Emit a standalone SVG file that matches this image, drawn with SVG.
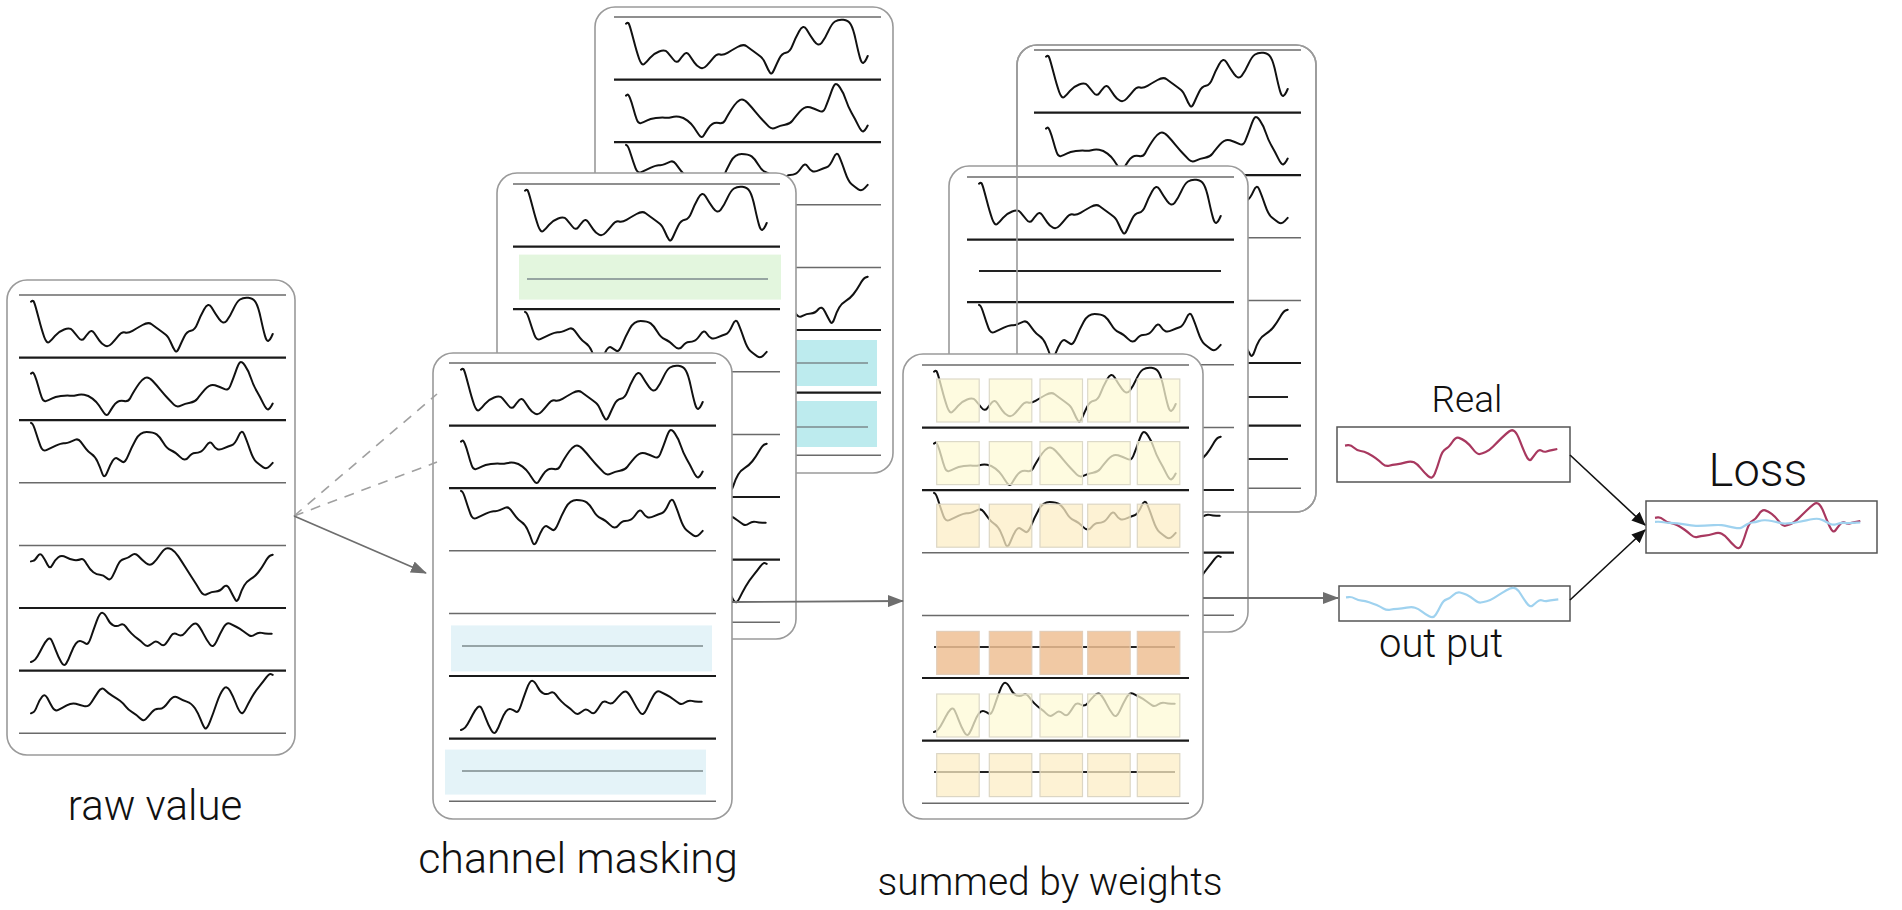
<svg xmlns="http://www.w3.org/2000/svg" xmlns:xlink="http://www.w3.org/1999/xlink" width="1902" height="910" viewBox="0 0 1902 910">
<style>
.frame{fill:#fff;stroke:#9a9a9a;stroke-width:1.6}
.frameo{fill:none;stroke:#9a9a9a;stroke-width:1.6}
.thin{stroke:#6a6a6a;stroke-width:1.5}
.thick{stroke:#1a1a1a;stroke-width:2.2}
.w{fill:none;stroke:#111;stroke-width:2;stroke-linejoin:round;stroke-linecap:round}
.mline{stroke:#7d8a8d;stroke-width:1.6}
.bline{stroke:#222;stroke-width:1.8}
.blue{fill:#e4f3f8}
.green{fill:#e3f6de}
.cyan{fill:#bdebee}
.sqy{fill:#fdfad6;fill-opacity:0.75;stroke:#dcd9c8;stroke-width:1.2}
.sqo{fill:#fcedc6;fill-opacity:0.75;stroke:#dcd6c4;stroke-width:1.2}
.sqs{fill:#efbf94;fill-opacity:0.85;stroke:#e2cdb8;stroke-width:1.2}
.conn{fill:none;stroke:#6e6e6e;stroke-width:1.8}
.dash{fill:none;stroke:#a0a0a0;stroke-width:1.6;stroke-dasharray:10 8}
.connb{fill:none;stroke:#111;stroke-width:1.6}
.box{fill:#fff;stroke:#555;stroke-width:1.5}
.red{fill:none;stroke:#a8385f;stroke-width:2.2;stroke-linejoin:round}
.sky{fill:none;stroke:#9fd2ef;stroke-width:2.2;stroke-linejoin:round}
.lbl{font-family:Roboto,'Liberation Sans',sans-serif;font-weight:300;fill:#111;text-anchor:middle}
</style>
<defs>
<marker id="ag" markerUnits="userSpaceOnUse" markerWidth="16" markerHeight="12" refX="15" refY="6" orient="auto"><path d="M0,0 L16,6 L0,12 z" fill="#6e6e6e"/></marker>
<marker id="ab" markerUnits="userSpaceOnUse" markerWidth="14" markerHeight="12" refX="13" refY="6" orient="auto"><path d="M0,0 L14,6 L0,12 z" fill="#111"/></marker>
<path id="wA" class="w" d="M12,6.7 L13.15,5.85 Q14.3,5 15.5,8.35 Q16.7,11.7 19.7,23.35 Q22.7,35 25.2,42 Q27.7,49 30.2,47 Q32.7,45 36,40.85 Q39.3,36.7 45.15,34.5 Q51,32.3 53.5,35.3 Q56,38.3 59.35,42.5 Q62.7,46.7 65.2,43.35 Q67.7,40 70.2,37.15 Q72.7,34.3 75.2,38 Q77.7,41.7 80.2,45.35 Q82.7,49 86,50.65 Q89.3,52.3 92.65,48.65 Q96,45 99.35,40.85 Q102.7,36.7 106,37.5 Q109.3,38.3 113.5,35.8 Q117.7,33.3 123.5,30 Q129.3,26.7 132.65,29.2 Q136,31.7 140.15,34.7 Q144.3,37.7 146.8,39.7 Q149.3,41.7 151.8,47.5 Q154.3,53.3 156,55.8 Q157.7,58.3 160.2,52.5 Q162.7,46.7 165.2,41.7 Q167.7,36.7 171.85,35.85 Q176,35 178.5,28.35 Q181,21.7 185.15,14.2 Q189.3,6.7 192.65,12.5 Q196,18.3 200.15,24.15 Q204.3,30 207.65,25.85 Q211,21.7 214.35,14.2 Q217.7,6.7 221,4.5 Q224.3,2.3 229.3,2.8 Q234.3,3.3 236.8,7.5 Q239.3,11.7 241.8,23.35 Q244.3,35 246,40.85 Q247.7,46.7 249.35,45.85 Q251,45 252.35,42 L253.7,39"/>
<path id="wB" class="w" d="M12,16 L13.15,15.15 Q14.3,14.3 16,18.5 Q17.7,22.7 19.35,28.85 Q21,35 22.65,39.65 Q24.3,44.3 26.8,43.5 Q29.3,42.7 32.65,41 Q36,39.3 41.85,38.5 Q47.7,37.7 50.85,38.1 Q54,38.5 57.5,37.6 Q61,36.7 65.15,37.2 Q69.3,37.7 73.5,41 Q77.7,44.3 79.85,47.65 Q82,51 84.85,55.15 Q87.7,59.3 89.85,55.65 Q92,52 94,49 Q96,46 98.5,44.35 Q101,42.7 105.15,43.5 Q109.3,44.3 111.15,40.65 Q113,37 115.35,33.15 Q117.7,29.3 120.35,25.65 Q123,22 126.15,20.35 Q129.3,18.7 133.5,23.2 Q137.7,27.7 141.85,32.7 Q146,37.7 149,40.85 Q152,44 154.85,47 Q157.7,50 161.85,48 Q166,46 171,45.15 Q176,44.3 178.5,41 Q181,37.7 186,31.85 Q191,26 196,27.65 Q201,29.3 205.15,31.3 Q209.3,33.3 211.15,28.65 Q213,24 214.5,20 Q216,16 217.75,11 Q219.5,6 221.1,4.65 Q222.7,3.3 226,8 Q229.3,12.7 231.8,20.2 Q234.3,27.7 237.65,33.5 Q241,39.3 244.35,46 Q247.7,52.7 249.35,51.85 Q251,51 252.35,48.5 L253.7,46"/>
<path id="wC" class="w" d="M12,2.7 L13.15,3.35 Q14.3,4 16.8,12 Q19.3,20 21.5,25.85 Q23.7,31.7 27.35,30 Q31,28.3 36.85,25.5 Q42.7,22.7 45.2,23 Q47.7,23.3 50.7,22 Q53.7,20.7 56.5,19.5 Q59.3,18.3 61.8,21.65 Q64.3,25 66.8,28.35 Q69.3,31.7 72.65,33.85 Q76,36 78.5,41.35 Q81,46.7 83.15,53 Q85.3,59.3 88.15,52.15 Q91,45 93.5,40.85 Q96,36.7 98.5,38.35 Q101,40 103.5,41.65 Q106,43.3 109.35,35 Q112.7,26.7 116.85,19.2 Q121,11.7 127.65,11.7 Q134.3,11.7 137.65,14.2 Q141,16.7 144.35,22.5 Q147.7,28.3 151.85,30 Q156,31.7 161,36.7 Q166,41.7 169.35,37.2 Q172.7,32.7 176,32.7 Q179.3,32.7 181.8,31.35 Q184.3,30 187.65,25 Q191,20 193.5,24 Q196,28 198.5,29 Q201,30 205.15,28 Q209.3,26 212.65,25 Q216,24 219.35,16.15 Q222.7,8.3 225.2,14.15 Q227.7,20 231,29.65 Q234.3,39.3 237.65,42.15 Q241,45 244.35,47.15 Q247.7,49.3 250.7,46 L253.7,42.7"/>
<path id="wD" class="w" d="M12,16 L14,15.5 Q16,15 18.5,11 Q21,7 23.5,10.65 Q26,14.3 28.5,19.3 Q31,24.3 33.5,19.3 Q36,14.3 39.35,11.8 Q42.7,9.3 46.85,11.8 Q51,14.3 55.15,14.65 Q59.3,15 61.8,13.85 Q64.3,12.7 67.65,18.5 Q71,24.3 74.35,26.8 Q77.7,29.3 81,29.3 Q84.3,29.3 87.65,32.65 Q91,36 93.5,31 Q96,26 98.5,20.15 Q101,14.3 105.15,13.5 Q109.3,12.7 112.65,9.85 Q116,7 119.35,10.65 Q122.7,14.3 126.85,17.65 Q131,21 134.35,17.65 Q137.7,14.3 141,9.3 Q144.3,4.3 146.8,3.15 Q149.3,2 152.65,4 Q156,6 159.35,11 Q162.7,16 166.85,22.65 Q171,29.3 174.35,34.3 Q177.7,39.3 181,45.15 Q184.3,51 188.5,48.5 Q192.7,46 196.85,46 Q201,46 204.35,41.85 Q207.7,37.7 211,44.35 Q214.3,51 216.3,54.35 Q218.3,57.7 220.5,51 Q222.7,44.3 225.2,40.15 Q227.7,36 231.85,33.5 Q236,31 239.35,26.85 Q242.7,22.7 246,16.85 Q249.3,11 251.5,10.15 L253.7,9.3"/>
<path id="wE" class="w" d="M12,54 L14,53.15 Q16,52.3 18.5,48.15 Q21,44 23.5,39 Q26,34 28.5,31.5 Q31,29 32.65,32.35 Q34.3,35.7 36.8,42.35 Q39.3,49 42.15,54 Q45,59 47.15,55.65 Q49.3,52.3 51.8,45.65 Q54.3,39 56.8,35.65 Q59.3,32.3 61.8,33.15 Q64.3,34 66.8,35.65 Q69.3,37.3 71.8,29.8 Q74.3,22.3 77.65,13.15 Q81,4 83.5,4.85 Q86,5.7 88.5,10.7 Q91,15.7 94.35,17.35 Q97.7,19 101,17 Q104.3,15 106.8,18.65 Q109.3,22.3 112.65,25.65 Q116,29 118.5,30.65 Q121,32.3 124.35,35.65 Q127.7,39 130.2,37.35 Q132.7,35.7 135.2,34 Q137.7,32.3 141,35.65 Q144.3,39 146.8,35.65 Q149.3,32.3 151.8,28.15 Q154.3,24 158.5,26.5 Q162.7,29 166,24.85 Q169.3,20.7 172.65,17.35 Q176,14 178.5,16.5 Q181,19 184.35,25.65 Q187.7,32.3 191,36.5 Q194.3,40.7 197.65,33.2 Q201,25.7 204.35,19.85 Q207.7,14 211,15.65 Q214.3,17.3 217.65,19 Q221,20.7 224.35,23.2 Q227.7,25.7 230.2,27.35 Q232.7,29 236,26.5 Q239.3,24 242.65,24.85 Q246,25.7 249.35,25.7 L252.7,25.7"/>
<path id="wF" class="w" d="M12,42.7 L14,41.85 Q16,41 18.15,35.15 Q20.3,29.3 23.15,26 Q26,22.7 28.5,27.7 Q31,32.7 33.5,36.85 Q36,41 39.35,39.35 Q42.7,37.7 47.7,34.85 Q52.7,32 56.85,33.15 Q61,34.3 65.15,35.5 Q69.3,36.7 72.65,31.35 Q76,26 79.35,21 Q82.7,16 86,19.35 Q89.3,22.7 93.5,25.2 Q97.7,27.7 101,30.2 Q104.3,32.7 106.8,36 Q109.3,39.3 113.5,41.8 Q117.7,44.3 121,47.65 Q124.3,51 126.8,48.5 Q129.3,46 132.65,41.85 Q136,37.7 140.15,38.2 Q144.3,38.7 149.3,31.5 Q154.3,24.3 158.5,26.8 Q162.7,29.3 167.7,31 Q172.7,32.7 176,37.7 Q179.3,42.7 181.8,49.35 Q184.3,56 186,57.65 Q187.7,59.3 191,51 Q194.3,42.7 197.65,32.7 Q201,22.7 204.35,18.5 Q207.7,14.3 211,20.15 Q214.3,26 216.8,32.65 Q219.3,39.3 221.5,41.8 Q223.7,44.3 226.5,38.5 Q229.3,32.7 232.65,26.85 Q236,21 240.15,16 Q244.3,11 247.3,6.85 Q250.3,2.7 252,3.5 L253.7,4.3"/>
<path id="sig" vector-effect="non-scaling-stroke" d="M0,16.7 L2.85,16.2 Q5.7,15.7 9,18.7 Q12.3,21.7 15.65,22 Q19,22.3 23.15,24.5 Q27.3,26.7 30.65,29.2 Q34,31.7 37.35,34.7 Q40.7,37.7 44,36.7 Q47.3,35.7 51.5,35.35 Q55.7,35 60.7,33.35 Q65.7,31.7 69,33.35 Q72.3,35 75.65,39.15 Q79,43.3 83.15,47.15 Q87.3,51 89.8,44.65 Q92.3,38.3 94.8,30 Q97.3,21.7 100.65,20 Q104,18.3 107.35,13 Q110.7,7.7 114,8.85 Q117.3,10 120.65,12.5 Q124,15 128.15,20.35 Q132.3,25.7 134.8,25 Q137.3,24.3 140.65,23 Q144,21.7 148.15,17.5 Q152.3,13.3 156.5,9.15 Q160.7,5 164,2.5 Q167.3,0 169.8,2.5 Q172.3,5 174.8,11.65 Q177.3,18.3 180.65,25.8 Q184,33.3 186.5,30 Q189,26.7 191.5,23.35 Q194,20 196.5,21.65 Q199,23.3 201.5,22.5 Q204,21.7 208.15,20.85 L212.3,20"/>
<g id="lines">
<line class="thin" x1="0" y1="0" x2="267" y2="0"/>
<line class="thick" x1="0" y1="62.6" x2="267" y2="62.6"/>
<line class="thick" x1="0" y1="125.2" x2="267" y2="125.2"/>
<line class="thin" x1="0" y1="187.8" x2="267" y2="187.8"/>
<line class="thin" x1="0" y1="250.4" x2="267" y2="250.4"/>
<line class="thick" x1="0" y1="313" x2="267" y2="313"/>
<line class="thick" x1="0" y1="375.6" x2="267" y2="375.6"/>
<line class="thin" x1="0" y1="438.2" x2="267" y2="438.2"/>
</g>
<g id="sq5">
<rect x="14.7" y="0" width="42.5" height="43"/>
<rect x="67.3" y="0" width="42.5" height="43"/>
<rect x="118" y="0" width="42.5" height="43"/>
<rect x="165.7" y="0" width="42.5" height="43"/>
<rect x="215.3" y="0" width="42.5" height="43"/>
</g>
</defs>

<g id="raw-value-panel" transform="translate(19,295)">
<rect class="frame" x="-12" y="-15" width="288" height="475" rx="20"/>
<use href="#lines"/>
<use href="#wA" y="0"/><use href="#wB" y="62.6"/><use href="#wC" y="125.2"/>
<use href="#wD" y="250.4"/><use href="#wE" y="313"/><use href="#wF" y="375.6"/>
</g>

<g id="mask-panel-back" transform="translate(614,17)">
<rect class="frame" x="-19" y="-10" width="298" height="466" rx="20"/>
<use href="#lines"/>
<use href="#wA" y="0"/><use href="#wB" y="62.6"/><use href="#wC" y="125.2"/>
<use href="#wD" y="250.4"/>
<rect class="cyan" x="1" y="323" width="262" height="46"/>
<line class="mline" x1="13" y1="346" x2="254" y2="346"/>
<rect class="cyan" x="1" y="384" width="262" height="46"/>
<line class="mline" x1="13" y1="410" x2="254" y2="410"/>
</g>

<g id="mask-panel-middle" transform="translate(513,184)">
<rect class="frame" x="-16" y="-11" width="299" height="466" rx="20"/>
<use href="#lines"/>
<use href="#wA" y="0"/>
<rect class="green" x="6" y="70.6" width="262" height="45"/>
<line class="mline" x1="14" y1="95" x2="255" y2="95"/>
<use href="#wC" y="125.2"/>
<use href="#wD" y="250.4"/><use href="#wE" y="313"/><use href="#wF" y="375.6"/>
</g>

<g id="mask-panel-front" transform="translate(449,363)">
<rect class="frame" x="-16" y="-10" width="299" height="466" rx="20"/>
<use href="#lines"/>
<use href="#wA" y="0"/><use href="#wB" y="62.6"/><use href="#wC" y="125.2"/>
<rect class="blue" x="2" y="262.4" width="261" height="46"/>
<line class="mline" x1="13" y1="283" x2="254" y2="283"/>
<use href="#wE" y="313"/>
<rect class="blue" x="-4" y="386.6" width="261" height="45"/>
<line class="mline" x1="13" y1="408" x2="254" y2="408"/>
</g>

<g id="summed-panel-back" transform="translate(1034,50)">
<rect class="frame" x="-17" y="-5" width="299" height="467" rx="20"/>
<use href="#lines"/>
<use href="#wA" y="0"/><use href="#wB" y="62.6"/><use href="#wC" y="125.2"/>
<use href="#wD" y="250.4"/>
<line class="bline" x1="12" y1="347" x2="254" y2="347"/>
<line class="bline" x1="12" y1="409" x2="254" y2="409"/>
</g>

<g id="summed-panel-middle" transform="translate(967,177)">
<rect class="frame" x="-18" y="-11" width="299" height="466" rx="20"/>
<use href="#lines"/>
<use href="#wA" y="0"/>
<line class="bline" x1="12" y1="94" x2="254" y2="94"/>
<use href="#wC" y="125.2"/>
<use href="#wD" y="250.4"/><use href="#wE" y="313"/><use href="#wF" y="375.6"/>
</g>

<g id="summed-panel-back-outline">
<rect class="frameo" x="1017" y="45" width="299" height="467" rx="20"/>
</g>

<g id="summed-panel-front" transform="translate(922,365)">
<rect class="frame" x="-19" y="-11" width="300" height="465" rx="20"/>
<use href="#lines"/>
<use href="#wA" y="0"/><use href="#wB" y="62.6"/><use href="#wC" y="125.2"/>
<line class="bline" x1="12" y1="282" x2="253" y2="282"/>
<use href="#wE" y="313"/>
<line class="bline" x1="12" y1="407" x2="253" y2="407"/>
<use href="#sq5" class="sqy" y="14"/>
<use href="#sq5" class="sqy" y="76.6"/>
<use href="#sq5" class="sqo" y="139.2"/>
<use href="#sq5" class="sqs" y="266.4"/>
<use href="#sq5" class="sqy" y="329"/>
<use href="#sq5" class="sqo" y="388.6"/>
</g>

<g id="real-node">
<rect class="box" x="1337" y="427" width="233" height="55"/>
<use href="#sig" class="red" transform="translate(1345,429)"/>
<text class="lbl" x="1467" y="412" font-size="37">Real</text>
</g>

<g id="output-node">
<rect class="box" x="1339" y="586" width="231" height="35"/>
<use href="#sig" class="sky" transform="translate(1346,587) scale(1,0.62)"/>
<text class="lbl" x="1441" y="657" font-size="40">out put</text>
</g>

<g id="loss-node">
<rect class="box" x="1646" y="501" width="231" height="52"/>
<use href="#sig" class="red" transform="translate(1655,502) scale(0.967,0.95)"/>
<use href="#sig" class="sky" transform="translate(1655,518.5) scale(0.967,0.2)"/>
<text class="lbl" x="1758" y="486" font-size="47">Loss</text>
</g>

<g id="labels">
<text class="lbl" x="155" y="820" font-size="42">raw value</text>
<text class="lbl" x="578" y="873" font-size="43">channel masking</text>
<text class="lbl" x="1050" y="895" font-size="39">summed by weights</text>
</g>

<g id="connectors">
<line class="dash" x1="294" y1="516" x2="437" y2="394"/>
<line class="dash" x1="294" y1="516" x2="437" y2="462"/>
<line class="conn" x1="294" y1="516" x2="426" y2="573" marker-end="url(#ag)"/>
<line class="conn" x1="732" y1="602" x2="903" y2="601" marker-end="url(#ag)"/>
<line class="conn" x1="1203" y1="598" x2="1338" y2="598" marker-end="url(#ag)"/>
<line class="connb" x1="1570" y1="455" x2="1645" y2="525" marker-end="url(#ab)"/>
<line class="connb" x1="1570" y1="600" x2="1645" y2="530" marker-end="url(#ab)"/>
</g>
</svg>
